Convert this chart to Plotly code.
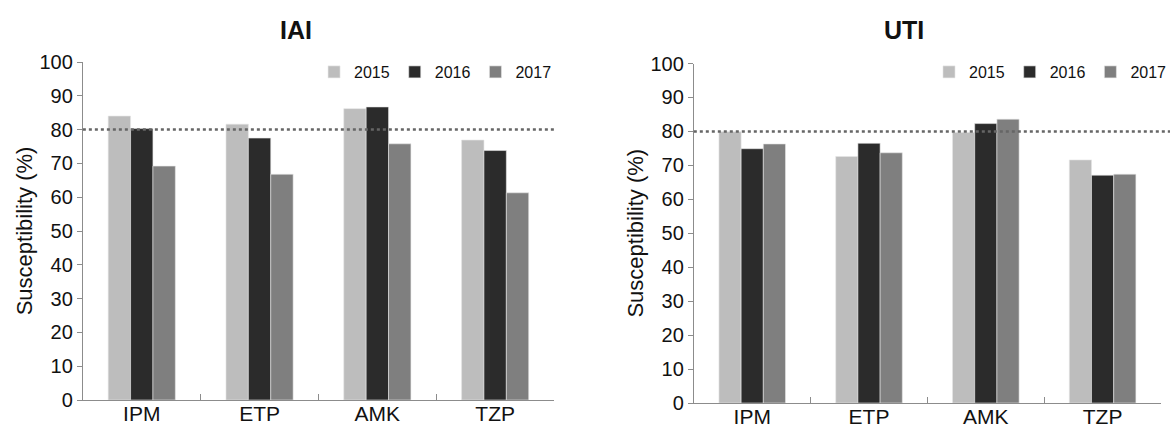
import plotly.graph_objects as go

categories = ["IPM", "ETP", "AMK", "TZP"]
years = ["2015", "2016", "2017"]
colors = ["#bdbdbd", "#2b2b2b", "#7f7f7f"]

iai_2015 = [84.0, 81.6, 86.2, 76.9]
iai_2016 = [80.3, 77.5, 86.7, 73.8]
iai_2017 = [69.2, 66.8, 75.8, 61.3]

uti_2015 = [79.9, 72.6, 79.7, 71.6]
uti_2016 = [74.9, 76.5, 82.3, 67.1]
uti_2017 = [76.3, 73.7, 83.6, 67.4]

threshold = 80
y_ticks = list(range(0, 101, 10))

FONT = "Liberation Sans, Arial, sans-serif"

fig = go.Figure()
iai = [iai_2015, iai_2016, iai_2017]
uti = [uti_2015, uti_2016, uti_2017]
for i, yr in enumerate(years):
    fig.add_trace(go.Bar(x=categories, y=iai[i], name=yr, marker_color=colors[i],
                         marker_line=dict(color="#e6e6e6", width=0.6),
                         xaxis="x", yaxis="y", legend="legend"))
for i, yr in enumerate(years):
    fig.add_trace(go.Bar(x=categories, y=uti[i], name=yr, marker_color=colors[i],
                         marker_line=dict(color="#e6e6e6", width=0.6),
                         xaxis="x2", yaxis="y2", legend="legend2"))

W, H = 1172, 428
L1, R1, T1, B1 = 83, 555, 62, 400
L2, R2, T2, B2 = 695, 1163, 63.5, 403

def fx(px):
    return px / W

def fy(py):
    return (H - py) / H

line_col = "#8c8c8c"
tickfont = dict(family=FONT, size=20, color="#111")
xtickfont = dict(family=FONT, size=21, color="#111")
ytitle = dict(text="Susceptibility (%)", font=dict(family=FONT, size=22, color="#111"), standoff=0)

xcommon = dict(ticks="inside", tickson="boundaries", ticklen=6, tickcolor=line_col,
               showgrid=False, showline=True, linecolor=line_col, linewidth=1,
               tickfont=xtickfont, automargin=False, ticklabelstandoff=-5)
ycommon = dict(range=[0, 100], tickvals=y_ticks, ticks="outside", ticklen=5, tickcolor=line_col,
               showgrid=False, zeroline=False, showline=True, linecolor=line_col, linewidth=1,
               tickfont=tickfont, title=ytitle, automargin=False)

fig.update_layout(
    template="none",
    width=W, height=H, margin=dict(l=0, r=0, t=0, b=0, pad=0), autosize=False,
    paper_bgcolor="white", plot_bgcolor="white",
    barmode="group", bargap=0.43, bargroupgap=0,
    font=dict(family=FONT, color="#111"),
    xaxis=dict(domain=[fx(L1), fx(R1)], anchor="y", **xcommon),
    yaxis=dict(domain=[fy(B1), fy(T1)], anchor="x", **ycommon),
    xaxis2=dict(domain=[fx(L2), fx(R2)], anchor="y2", **xcommon),
    yaxis2=dict(domain=[fy(B2), fy(T2)], anchor="x2", **ycommon),
    legend=dict(orientation="h", x=fx(558), xanchor="right", y=fy(55), yanchor="top",
                font=dict(family=FONT, size=16, color="#111"), itemwidth=30,
                bgcolor="rgba(0,0,0,0)", borderwidth=0, tracegroupgap=0),
    legend2=dict(orientation="h", x=fx(1174), xanchor="right", y=fy(55), yanchor="top",
                 font=dict(family=FONT, size=16, color="#111"), itemwidth=30,
                 bgcolor="rgba(0,0,0,0)", borderwidth=0, tracegroupgap=0),
    annotations=[
        dict(text="<b>IAI</b>", x=fx(297), y=fy(30), xref="paper", yref="paper",
             xanchor="center", yanchor="middle",
             showarrow=False, font=dict(family=FONT, size=25, color="#111")),
        dict(text="<b>UTI</b>", x=fx(906), y=fy(30), xref="paper", yref="paper",
             xanchor="center", yanchor="middle",
             showarrow=False, font=dict(family=FONT, size=25, color="#111")),
    ],
    shapes=[
        dict(type="line", xref="paper", yref="y", x0=fx(L1), x1=fx(557), y0=threshold, y1=threshold,
             line=dict(color="#666666", width=2.5, dash="dot")),
        dict(type="line", xref="paper", yref="y2", x0=fx(L2), x1=1.0, y0=threshold, y1=threshold,
             line=dict(color="#666666", width=2.5, dash="dot")),
    ],
)

fig.write_html("out.html", config={"displayModeBar": False},
               post_script="document.body.style.margin='0';document.body.style.overflow='hidden';")
